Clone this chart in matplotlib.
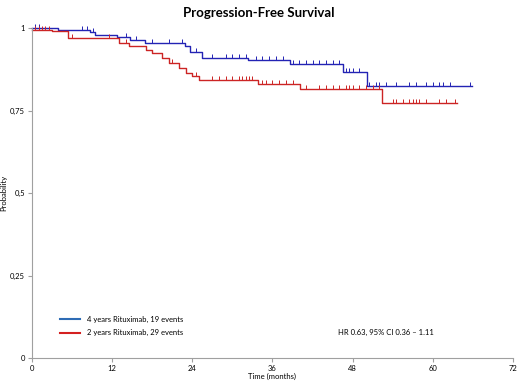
import numpy as np
from matplotlib import pyplot as plt
from matplotlib.ticker import FuncFormatter

plt.rcParams['font.family'] = ['Lato', 'DejaVu Sans']

# step curves: (time in months, survival after the step)
blue_t = [0, 3.9, 8.7, 9.5, 12.7, 14.7, 16.9, 22.9, 23.7, 25.4, 32.3, 38.6, 46.6, 50.1, 65.9]
blue_s = [1.0, 0.995, 0.988, 0.979, 0.972, 0.964, 0.955, 0.945, 0.927, 0.909, 0.903, 0.891, 0.867, 0.825, 0.825]

red_t = [0, 3.0, 5.4, 13.0, 14.5, 17.0, 18.0, 19.5, 20.5, 22.0, 23.0, 24.0, 25.0, 33.8, 40.1, 52.4, 63.6]
red_s = [0.995, 0.99, 0.97, 0.955, 0.945, 0.935, 0.925, 0.91, 0.895, 0.88, 0.865, 0.855, 0.842, 0.832, 0.817, 0.774, 0.774]

# censoring marks
blue_cens = [0.5, 1, 7.5, 8.2, 9.2, 14, 15.5, 18, 20.5, 22.5, 24.5, 27, 29, 30, 31, 32, 33.5,
             34.5, 35.5, 36.5, 37.5, 39, 40, 41, 42, 43, 44, 45, 46, 47, 47.5, 48, 49,
             50.5, 51.5, 52, 53, 54.5, 56.5, 57.5, 59, 60, 61, 61.5, 62.5, 65.5]
red_cens = [0.5, 1, 1.5, 2, 2.5, 6, 11.5, 14, 17, 21, 24.5, 27, 28, 29, 30, 31, 31.5, 32, 32.5,
            33, 34.5, 35, 36, 37, 38, 39, 41, 43, 44, 45, 46, 47, 47.5, 48, 49, 50, 51, 52,
            54, 54.5, 55.5, 56.5, 57, 57.5, 58, 59, 61, 62, 63.3]

blue = '#2323b4'
red = '#cc2424'


def surv_at(ts, ss, x):
    idx = np.searchsorted(ts, x, side='right') - 1
    return np.array(ss)[idx]


fig = plt.figure(figsize=(5.2, 3.84), dpi=100)
ax = fig.add_axes([0.0615, 0.0677, 0.925, 0.859])

ax.step(blue_t, blue_s, where='post', color=blue, lw=1.0, clip_on=False)
ax.step(red_t, red_s, where='post', color=red, lw=1.0, clip_on=False)
ax.plot(blue_cens, surv_at(blue_t, blue_s, blue_cens), ls='none', marker=2, ms=3,
        mew=0.7, color=blue, clip_on=False)
ax.plot(red_cens, surv_at(red_t, red_s, red_cens), ls='none', marker=2, ms=3,
        mew=0.7, color=red, clip_on=False)

ax.set_xlim(0, 72)
ax.set_ylim(0, 1)
ax.set_xticks(np.arange(0, 73, 12))
ax.set_yticks([0, 0.25, 0.5, 0.75, 1])
ax.yaxis.set_major_formatter(FuncFormatter(lambda v, p: ('%g' % v).replace('.', ',')))

for s in ['top', 'right']:
    ax.spines[s].set_visible(False)
for s in ['left', 'bottom']:
    ax.spines[s].set_color('#a0a0a0')
    ax.spines[s].set_linewidth(0.8)
ax.tick_params(colors='#a0a0a0', labelcolor='black', labelsize=5.5, length=3, width=0.8, pad=2)

ax.set_xlabel('Time (months)', fontsize=5.5)
ax.set_ylabel('Probability', fontsize=5.5)
ax.xaxis.set_label_coords(0.5, -0.045)
ax.yaxis.set_label_coords(-0.052, 0.5)
fig.text(0.497, 0.967, 'Progression-Free Survival', ha='center', va='center',
         fontsize=9.5, fontweight='bold')

# legend drawn by hand to sit like the original
ax.plot([4.2, 7.2], [0.118, 0.118], color='#2e6cb5', lw=1.5, clip_on=False)
ax.plot([4.2, 7.2], [0.076, 0.076], color='#d42020', lw=1.5, clip_on=False)
ax.text(8.2, 0.118, '4 years Rituximab, 19 events', fontsize=5.5, va='center')
ax.text(8.2, 0.076, '2 years Rituximab, 29 events', fontsize=5.5, va='center')
ax.text(45.8, 0.076, 'HR 0.63, 95% CI 0.36 \u2013 1.11', fontsize=5.5, va='center')

fig.savefig('out.png', dpi=100)
